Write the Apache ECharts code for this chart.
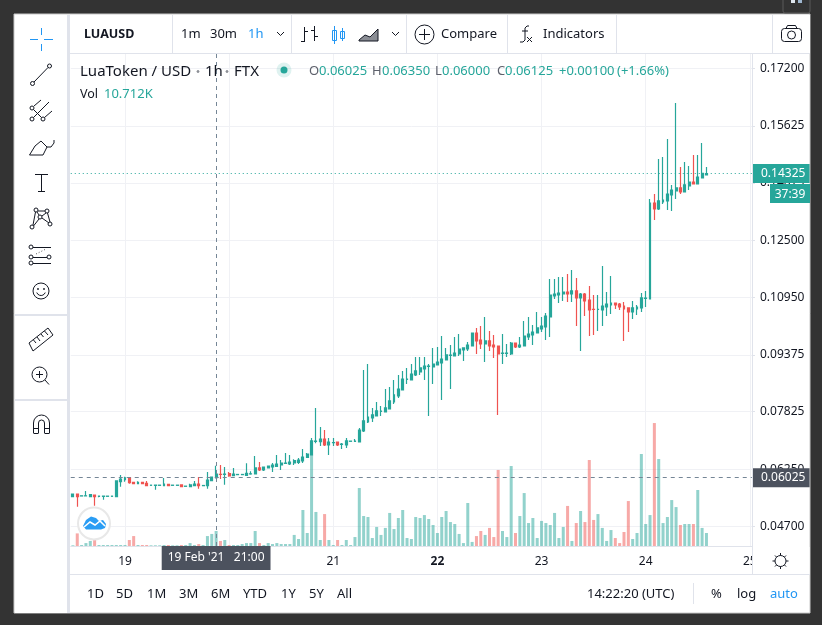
<!DOCTYPE html>
<html><head><meta charset="utf-8">
<style>html,body{margin:0;padding:0;background:#333}#c{width:822px;height:625px}</style>
<script src="https://cdn.jsdelivr.net/npm/echarts@6/dist/echarts.min.js"></script>
</head><body><div id="c"></div>
<script>
const hourLabels = ['00','01','02','03','04','05','06','07','08','09','10','11','12','13','14','15','16','17','18','19','20','21','22','23'];
const dayNames = ['18','19','20','21','22','23','24','25'];
const dayTicks = ['19','20','21','22','23','24','25'];
const priceTicks = [0.172,0.15625,0.14075,0.125,0.1095,0.09375,0.07825,0.0625,0.047];
const openPrices = [
0.05506,0.05579,0.05524,0.05524,0.05506,0.05551,0.05515,0.05515,0.05515,0.05515,
0.05506,0.05916,0.05970,0.06025,0.05897,0.05861,0.05897,0.05870,0.05815,0.05815,
0.05815,0.05806,0.05843,0.05815,0.05815,0.05825,0.05788,0.05779,0.05806,0.05852,
0.05806,0.05806,0.05943,0.06025,0.06116,0.06116,0.06134,0.06079,0.06107,0.06107,
0.06088,0.06125,0.06125,0.06289,0.06234,0.06289,0.06316,0.06334,0.06370,0.06416,
0.06398,0.06425,0.06443,0.06480,0.06580,0.06644,0.07017,0.07008,0.07080,0.06917,
0.06980,0.06998,0.06935,0.06917,0.07017,0.07017,0.06998,0.07299,0.07544,0.07654,
0.07708,0.07836,0.07817,0.07899,0.08090,0.08254,0.08418,0.08709,0.08691,0.08827,
0.08909,0.08991,0.09064,0.09046,0.09101,0.09155,0.09237,0.09364,0.09346,0.09401,
0.09510,0.09537,0.09619,0.09974,0.09783,0.09674,0.09756,0.09646,0.09619,0.09419,
0.09419,0.09401,0.09701,0.09592,0.09619,0.09865,0.09919,0.09974,0.10083,0.10138,
0.10411,0.10984,0.11011,0.11039,0.11093,0.11039,0.11121,0.10930,0.11039,0.10875,
0.10620,0.10615,0.10602,0.10684,0.10739,0.10793,0.10766,0.10711,0.10657,0.10547,
0.10629,0.10657,0.10921,0.10902,0.13523,0.13359,0.13550,0.13578,0.13741,0.13851,
0.13933,0.13824,0.13987,0.14096,0.14042,0.14206,0.14287];
const closePrices = [
0.05579,0.05506,0.05529,0.05529,0.05561,0.05506,0.05520,0.05520,0.05520,0.05520,
0.05934,0.05988,0.06016,0.05888,0.05861,0.05897,0.05861,0.05806,0.05820,0.05820,
0.05820,0.05852,0.05806,0.05820,0.05820,0.05779,0.05793,0.05825,0.05852,0.05806,
0.05811,0.05961,0.06043,0.06125,0.06111,0.06121,0.06070,0.06125,0.06112,0.06112,
0.06143,0.06130,0.06289,0.06234,0.06316,0.06343,0.06370,0.06398,0.06425,0.06421,
0.06452,0.06489,0.06507,0.06589,0.06671,0.07026,0.07022,0.07080,0.06917,0.06998,
0.06985,0.06917,0.06940,0.07026,0.07022,0.07022,0.07326,0.07572,0.07681,0.07736,
0.07845,0.07841,0.07927,0.08118,0.08282,0.08445,0.08718,0.08714,0.08855,0.08937,
0.09019,0.09073,0.09069,0.09128,0.09182,0.09264,0.09374,0.09369,0.09428,0.09537,
0.09565,0.09646,0.09974,0.09756,0.09674,0.09756,0.09619,0.09592,0.09401,0.09424,
0.09424,0.09701,0.09592,0.09646,0.09892,0.09947,0.10001,0.10111,0.10165,0.10438,
0.11011,0.11039,0.11066,0.11093,0.11039,0.11121,0.10930,0.11039,0.10848,0.10602,
0.10615,0.10620,0.10711,0.10766,0.10793,0.10739,0.10684,0.10629,0.10547,0.10657,
0.10684,0.10930,0.10926,0.13523,0.13359,0.13578,0.13605,0.13769,0.13878,0.13933,
0.13824,0.14015,0.14096,0.14042,0.14233,0.14333,0.14325];
const lowPrices = [
0.05506,0.05233,0.05524,0.05524,0.05506,0.05260,0.05488,0.05424,0.05515,0.05515,
0.05506,0.05779,0.05916,0.05861,0.05861,0.05861,0.05861,0.05806,0.05815,0.05697,
0.05815,0.05806,0.05806,0.05815,0.05815,0.05779,0.05788,0.05779,0.05806,0.05724,
0.05806,0.05724,0.05943,0.06000,0.05988,0.05834,0.06052,0.06079,0.06107,0.06107,
0.06070,0.06107,0.06125,0.06207,0.06207,0.06289,0.06180,0.06316,0.06234,0.06416,
0.06370,0.06370,0.06398,0.06425,0.06562,0.06644,0.06962,0.06889,0.06889,0.06643,
0.06889,0.06889,0.06807,0.06835,0.07017,0.07017,0.06998,0.07271,0.07517,0.07544,
0.07708,0.07708,0.07817,0.07899,0.08036,0.08199,0.08418,0.08582,0.08691,0.08800,
0.08827,0.08691,0.07708,0.08582,0.09101,0.08145,0.09237,0.08445,0.09346,0.09346,
0.09210,0.09483,0.09619,0.09401,0.09537,0.09182,0.09483,0.09292,0.07736,0.09128,
0.09319,0.09374,0.09565,0.09565,0.09619,0.09783,0.09647,0.09974,0.10001,0.09783,
0.09865,0.10902,0.10793,0.10848,0.10820,0.10820,0.10165,0.09483,0.10438,0.09892,
0.09919,0.10029,0.10165,0.10438,0.10493,0.10629,0.10602,0.09756,0.10001,0.10356,
0.10466,0.10547,0.10684,0.10902,0.13059,0.13332,0.13496,0.13332,0.13305,0.13632,
0.13769,0.13824,0.13878,0.14042,0.14042,0.14206,0.14287];
const highPrices = [
0.05579,0.05579,0.05529,0.05661,0.05579,0.05551,0.05520,0.05520,0.05520,0.05520,
0.05934,0.06098,0.06052,0.06025,0.05897,0.05925,0.05897,0.05934,0.05820,0.05820,
0.05820,0.06016,0.05843,0.05820,0.05820,0.05825,0.05793,0.05861,0.05934,0.06043,
0.05811,0.06180,0.06043,0.06350,0.06370,0.06316,0.06180,0.06289,0.06112,0.06112,
0.06416,0.06198,0.06616,0.06452,0.06316,0.06343,0.06425,0.06644,0.06507,0.06698,
0.06644,0.06525,0.06562,0.06807,0.06698,0.07108,0.07927,0.07408,0.07326,0.07108,
0.07108,0.06998,0.06971,0.07108,0.07022,0.07080,0.07381,0.08964,0.09128,0.07927,
0.08090,0.07981,0.08445,0.08500,0.08691,0.08827,0.08937,0.09019,0.09128,0.09319,
0.09319,0.09319,0.09128,0.09565,0.09592,0.09892,0.09565,0.09646,0.09865,0.09947,
0.09565,0.09728,0.09974,0.10111,0.10165,0.10411,0.10029,0.09920,0.09619,0.09947,
0.09674,0.09728,0.09701,0.09865,0.10302,0.10411,0.10193,0.10547,0.10411,0.10520,
0.11448,0.11448,0.11503,0.11503,0.11585,0.11694,0.11476,0.11066,0.11066,0.11257,
0.11011,0.11011,0.11803,0.11093,0.11530,0.10793,0.10793,0.10820,0.10657,0.10848,
0.10739,0.11066,0.11121,0.13632,0.13769,0.14724,0.14779,0.15270,0.14015,0.16253,
0.14506,0.14642,0.14533,0.14834,0.14834,0.15161,0.14506];
const volumesK = [
0.5,9.0,0.7,2.1,3.6,5.0,0.7,0.7,0.7,0.7,
0.7,0.7,0.7,4.3,7.1,0.7,0.7,0.7,0.5,0.5,
0.5,0.7,0.7,0.5,0.5,0.7,0.7,2.1,0.7,1.4,
0.7,7.1,8.6,10.712,3.6,4.3,0.7,0.7,0.7,1.4,
2.1,2.1,10.7,2.1,0.7,2.1,1.4,2.1,1.4,1.4,
1.4,7.9,5.0,25.7,9.3,65.0,24.3,4.3,22.8,4.3,
0.7,4.3,0.7,4.3,0.7,6.4,41.4,21.4,20.7,5.7,
13.6,7.9,12.9,23.6,12.1,20.0,25.7,5.7,5.0,20.7,
20.0,22.1,19.3,15.0,9.3,20.7,25.0,17.1,15.7,8.6,
2.1,30.7,2.9,7.1,10.7,7.9,12.9,6.4,54.3,10.7,
6.4,57.1,9.3,21.4,37.8,16.4,20.0,5.7,17.9,16.4,
15.0,23.6,5.7,13.6,28.6,3.6,16.4,25.0,17.1,61.4,
18.6,22.8,12.9,3.6,11.4,5.7,2.1,10.0,32.1,5.0,
9.3,65.7,15.7,22.1,87.8,62.1,16.4,20.7,32.8,27.8,
15.0,15.7,15.7,15.7,40.0,12.9,9.3];

const UP='#26a69a', DOWN='#ef5350', UPV='rgba(38,166,154,0.5)', DOWNV='rgba(239,83,80,0.5)';
const INK='#131722', SEP='#e0e3eb', CROSS='#758696', BLUE='#2196f3', FONT='"Noto Sans"';

// 18 Feb 12:00 … 25 Feb 00:00, one category per hour
const categories=[];
for(let d=0;d<dayNames.length;d++){hourLabels.forEach((h,k)=>{ if((d>0||k>=12)&&categories.length<157) categories.push(dayNames[d]+' '+h+':00'); });}
const candleRows=openPrices.map((o,i)=>[o,closePrices[i],lowPrices[i],highPrices[i]]);
const volumeRows=volumesK.map((v,i)=>({value:v,itemStyle:{color:closePrices[i]>=openPrices[i]?UPV:DOWNV}}));

const Z=100;
const L=(x1,y1,x2,y2,c=INK,w=1,extra={})=>({type:'line',z:Z+1,silent:true,shape:{x1,y1,x2,y2},style:Object.assign({stroke:c,lineWidth:w},extra)});
const R=(x,y,width,height,fill,stroke,r=0,w=1)=>({type:'rect',z:Z,silent:true,shape:{x,y,width,height,r},style:{fill:fill||'none',stroke:stroke||'none',lineWidth:w}});
const O=(cx,cy,r,stroke=INK,fill='none',w=1)=>({type:'circle',z:Z+1,silent:true,shape:{cx,cy,r},style:{stroke,fill,lineWidth:w}});
const P=(pts,c=INK,w=1)=>({type:'polyline',z:Z+1,silent:true,shape:{points:pts},style:{stroke:c,fill:'none',lineWidth:w}});
const G=(pts,fill,stroke,w=1)=>({type:'polygon',z:Z+1,silent:true,shape:{points:pts},style:{stroke:stroke||'none',fill,lineWidth:w}});
const A=(cx,cy,r,a0,a1,c=INK,w=1)=>({type:'arc',z:Z+1,silent:true,shape:{cx,cy,r,startAngle:a0,endAngle:a1,clockwise:true},style:{stroke:c,fill:'none',lineWidth:w}});
const T=(x,y,text,fill=INK,size=13,weight='normal',align='left')=>({type:'text',z:Z+2,silent:true,style:{x,y:y+0.7,text,fill,font:weight+' '+size+'px '+FONT,textAlign:align,textVerticalAlign:'middle'}});

const chrome=[
 // dark window frame
 R(0,0,822,14,'#333'),R(0,613,822,12,'#333'),R(0,0,14,625,'#333'),R(810,0,12,625,'#333'),
 R(14,14,796,599,'none','#c9c9c9'),
 R(783,-2,27,15,'#333','#5a5a5a',2),R(791,0,4,3,'#dfe6ee'),R(798,0,4,3,'#9fb7d0'),
 // left tool strip
 R(15,15,52,598,'#fff'),R(67,15,3,598,SEP),L(15,315,67,315,SEP,2),L(15,400,67,400,SEP,2),
 // top tool strip
 R(70,15,740,38,'#fff'),L(70,53.5,810,53.5,SEP),
 L(172.5,15,172.5,53,SEP),L(291.5,15,291.5,53,SEP),L(406.5,15,406.5,53,SEP),L(507.5,15,507.5,53,SEP),L(616.5,15,616.5,53,SEP),L(772.5,15,772.5,53,SEP),
 T(84,34,'LUAUSD',INK,12.5,'bold'),T(181,34,'1m'),T(210,34,'30m'),T(248,34,'1h',BLUE),
 P([[277,32],[280.5,35.5],[284,32]]),P([[392,32],[395.5,35.5],[399,32]]),
 // bars icon
 L(304.5,27,304.5,42),L(301,41.5,304.5,41.5),L(304.5,31.5,308,31.5),L(314.5,26,314.5,41),L(311,30.5,314.5,30.5),L(314.5,36.5,318,36.5),
 // candles icon
 L(334.5,26,334.5,44,BLUE),R(332.5,30.5,4,10,'#fff',BLUE),L(342.5,28,342.5,41,BLUE),R(340.5,31.5,4,7,'#fff',BLUE),
 // area icon
 G([[359,40],[365,35],[370,37],[378,29],[378,41],[359,41]],'#8a8d94',INK),
 // compare
 O(424.5,34.5,9.5),L(424.5,29,424.5,40),L(419,34.5,430,34.5),T(441,34,'Compare'),
 // fx
 P([[525,30],[525,28],[527,26],[529,26]]),P([[525,30],[525,40],[523,42],[520,42]]),L(522,31,528,31),L(527,37,532,42),L(532,37,527,42),
 T(543,34,'Indicators'),
 // camera
 R(781.5,28.5,20,13,'#fff',INK,3),O(791.5,35,4),P([[786,28.5],[787.5,25.5],[795.5,25.5],[797,28.5]]),
 // legend
 T(80,71,'LuaToken / USD',INK,15),O(198,71.5,1,'#8a8d94','#8a8d94'),T(205,71,'1h',INK,15),O(227,71.5,1,'#8a8d94','#8a8d94'),T(234,71,'FTX',INK,15),
 O(284,70,7.5,'none','rgba(38,166,154,0.15)'),O(284,70,3.5,'none',UP),
 T(309,71,'O','#5d606b'),T(319,71,'0.06025',UP),T(372,71,'H','#5d606b'),T(382,71,'0.06350',UP),T(435,71,'L','#5d606b'),T(442,71,'0.06000',UP),
 T(497,71,'C','#5d606b'),T(505,71,'0.06125',UP),T(559,71,'+0.00100',UP),T(617,71,'(+1.66%)',UP),
 T(80,94,'Vol','#131722',12.5),T(104,94,'10.712K',UP),
 // countdown box
 R(770,184,40,19,UP),T(790,193.5,'37:39','#fff',12,'normal','center'),
 // tool icons
 L(30,39.5,38,39.5,BLUE),L(44,39.5,53,39.5,BLUE),L(41.5,28,41.5,35,BLUE),L(41.5,44,41.5,51,BLUE),
 O(32.5,83.5,2),O(49.5,66,2),L(34,82,48,67.5),
 O(32,108,2),O(32,119,2),O(43,119,2),L(33.5,109.5,41.5,117.5),L(33.5,117.5,49,102),L(44.5,117.5,52,111),L(34,106,41,100),
 P([[29.5,155],[43,155],[47,147],[41,141],[35,146],[29.5,155]]),P([[47,147],[51,147],[54,143],[54,140]]),
 L(35,174.5,48,174.5),L(41.5,174.5,41.5,191),L(38,191.5,45,191.5),
 O(32,227,2),O(36,210,2),O(47,211,2),O(50,224,2),O(40,217,2),L(33,225,35.5,212),L(38,211,45,211),L(37,212,39,215),L(42,216,46,213),L(42,218,49,223),L(47.5,213,50,222),L(33.5,226,39,219),
 O(31,247,2),O(31,257,2),O(31,263,2),O(49,257,2),L(33,247.5,51,247.5),L(33,263.5,51,263.5),L(33,257.5,47,257.5),L(36,254,46,249,'#555',1,{lineDash:[1,2]}),
 O(41,291,8),O(38,289,.6),O(44,289,.6),A(41,291,4.5,0.35,2.8),
 G([[29,343],[48,328],[53,335],[33,351]],'none',INK),L(33.5,340,36,343),L(37,337,40,341),L(41,334,43.5,337),L(44.5,331,48,335),
 O(39.5,374.5,7.5),L(39.5,371,39.5,378),L(36,374.5,43,374.5),L(45,380,49,384.5),
 A(41.5,423,8,Math.PI,2*Math.PI),A(41.5,423,3,Math.PI,2*Math.PI),L(33.5,423,33.5,433),L(38.5,423,38.5,433),L(44.5,423,44.5,433),L(49.5,423,49.5,433),L(33.5,433.5,38.5,433.5),L(44.5,433.5,49.5,433.5),L(33.5,428.5,38.5,428.5),L(44.5,428.5,49.5,428.5),
 // time axis cell cover and settings
 R(752.5,547,57,27,'#fff'),L(752.5,54,752.5,574,SEP),L(70,574.5,810,574.5,SEP),
 O(780.5,561,5.5),L(780.5,553,780.5,555.5),L(780.5,566.5,780.5,569),L(772.5,561,775,561),L(786,561,788.5,561),L(775,555.5,776.5,557),L(784.5,565,786,566.5),L(775,566.5,776.5,565),L(784.5,557,786,555.5),
 // bottom strip
 T(87,594,'1D'),T(116,594,'5D'),T(147,594,'1M'),T(179,594,'3M'),T(211,594,'6M'),T(243,594,'YTD'),T(281,594,'1Y'),T(309,594,'5Y'),T(337,594,'All'),
 T(587,594,'14:22:20 (UTC)'),L(693.5,583,693.5,604,SEP),T(711,594,'%'),T(737,594,'log'),T(770,594,'auto',BLUE),
 // logo
 O(94,523.5,16,'#e8e8e8','#fff',2),
 G([[83,526],[86,520],[91,516.5],[96,518],[99,521],[103,520],[106,524],[105,528],[101,529.5],[86,529.5]],'#2a9df4'),
 P([[84,527],[90,522],[95,525],[100,521],[105,526]],'#fff',1.6)
];

const chart=echarts.init(document.getElementById('c'));
chart.setOption({
 animation:false,
 backgroundColor:'#fff',
 textStyle:{fontFamily:FONT},
 grid:{left:70.75,right:70,top:54,bottom:79,containLabel:false},
 xAxis:{type:'category',data:categories,boundaryGap:true,
  axisLine:{lineStyle:{color:SEP}},
  axisTick:{show:false,alignWithLabel:true,interval:(i)=>(i-12)%24===0},
  splitLine:{show:true,alignWithLabel:true,interval:(i)=>(i-12)%24===0,lineStyle:{color:'#f0f1f5'}},
  axisLabel:{interval:(i)=>(i-12)%24===0,margin:10,color:INK,fontSize:12,fontFamily:FONT,
   formatter:(v,i)=>{const t=dayTicks[(i-12)/24];return t==='22'?'{b|'+t+'}':t;},
   rich:{b:{fontWeight:'bold',fontSize:12,color:INK,fontFamily:FONT}}}},
 yAxis:[
  {type:'value',position:'right',min:0.041588,max:0.175904,
   axisLine:{show:false},
   axisTick:{show:true,length:3,customValues:priceTicks,lineStyle:{color:SEP}},
   splitLine:{show:true,lineStyle:{color:'#f0f1f5'}},
   axisLabel:{customValues:priceTicks,formatter:v=>v.toFixed(5),margin:8,padding:[3,0,0,0],color:INK,fontSize:12,fontFamily:FONT}},
  {type:'value',min:0,max:351.3,show:false,splitLine:{show:false}}
 ],
 series:[
  {type:'bar',name:'Vol',yAxisIndex:1,data:volumeRows,barWidth:3,z:1,silent:true},
  {type:'candlestick',name:'LUAUSD',data:candleRows,barWidth:2.4,z:3,silent:true,
   itemStyle:{color:UP,color0:DOWN,borderColor:UP,borderColor0:DOWN,borderWidth:1.2},
   markLine:{silent:true,symbol:'none',animation:false,z:4,precision:5,
    data:[
     {yAxis:0.14325,lineStyle:{color:UP,type:[1,3],width:1},
      label:{show:true,position:'end',distance:0,formatter:'0.14325',color:'#fff',backgroundColor:UP,fontSize:12,fontFamily:FONT,padding:[4,9,3,9]}},
     {yAxis:0.06025,lineStyle:{color:CROSS,type:[4,4],width:1},
      label:{show:true,position:'end',distance:0,formatter:'0.06025',color:'#fff',backgroundColor:'#4c525e',fontSize:12,fontFamily:FONT,padding:[4,9,3,9]}},
     {xAxis:categories[33],lineStyle:{color:CROSS,type:[4,4],width:1},
      label:{show:true,position:'start',distance:0,formatter:"19 Feb '21   21:00",color:'#fff',backgroundColor:'#4c525e',fontSize:12,fontFamily:FONT,padding:[6,6,6,6]}}
    ]}}
 ],
 graphic:{elements:chrome}
});
</script></body></html>
